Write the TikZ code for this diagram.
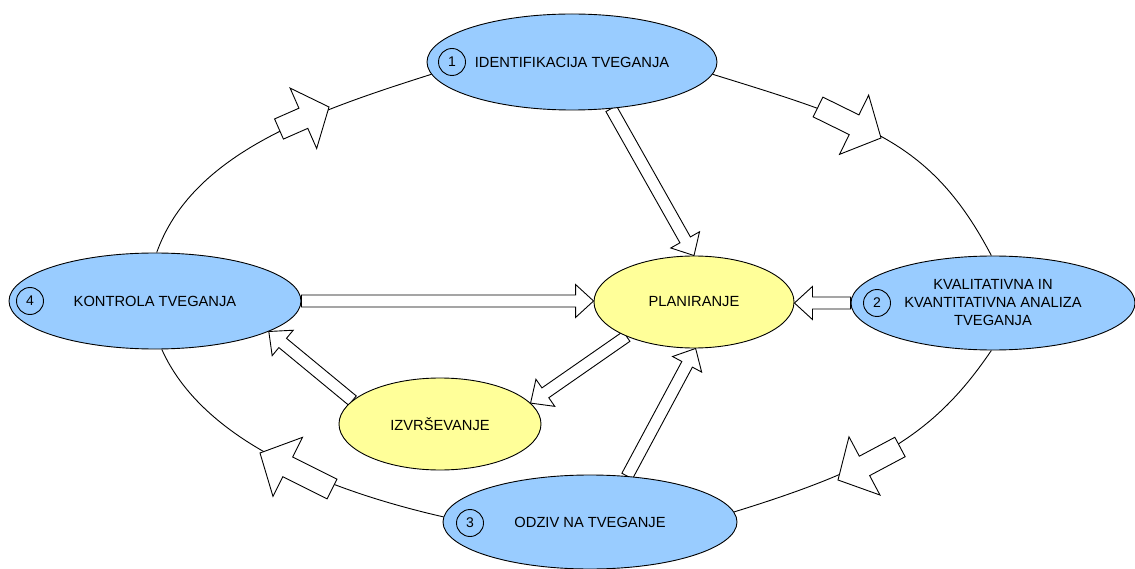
\documentclass[tikz,border=0pt]{standalone}
\usepackage{fontspec}
\setmainfont{Liberation Sans}
\usetikzlibrary{shapes.geometric,calc}
\pgfdeclarelayer{background}
\pgfsetlayers{background,main}
\definecolor{stepblue}{RGB}{153,204,255}
\definecolor{stepyellow}{RGB}{255,255,153}
\tikzset{
  ringline/.style={draw=black, line width=0.9pt},
  fatarrow/.style={draw=black, fill=white, line width=0.9pt, line join=miter},
  bluestep/.style={ellipse, draw=black, line width=0.9pt, fill=stepblue, inner sep=0pt, align=center,
    font=\fontsize{14.7}{18}\selectfont},
  yellowstep/.style={ellipse, draw=black, line width=0.9pt, fill=stepyellow, inner sep=0pt, align=center,
    font=\fontsize{14.7}{18}\selectfont},
  numcircle/.style={circle, draw=black, line width=0.9pt, minimum size=27pt, inner sep=0pt,
    font=\fontsize{14}{16}\selectfont}
}
\newcommand\blockarrow[5]{%
  \coordinate (ba-a) at (#1);
  \coordinate (ba-b) at (#2);
  \coordinate (ba-h) at ($(ba-b)!#5!(ba-a)$);
  \draw[fatarrow] ($(ba-a)!#3!90:(ba-b)$) -- ($(ba-h)!#3!-90:(ba-a)$) -- ($(ba-h)!#4!-90:(ba-a)$)
    -- (ba-b) -- ($(ba-h)!#4!90:(ba-a)$) -- ($(ba-h)!#3!90:(ba-a)$) -- ($(ba-a)!#3!-90:(ba-b)$) -- cycle;
}
\begin{document}
\begin{tikzpicture}[x=1pt,y=-1pt]
\useasboundingbox (0,0) rectangle (1135,569);

% main nodes
\node[bluestep, minimum width=290pt, minimum height=96pt] (T) at (572,62) {IDENTIFIKACIJA TVEGANJA};
\node[bluestep, minimum width=292pt, minimum height=96pt] (K) at (155,301) {KONTROLA TVEGANJA};
\node[bluestep, minimum width=284pt, minimum height=94pt] (R) at (993,303) {KVALITATIVNA IN\\KVANTITATIVNA ANALIZA\\TVEGANJA};
\node[bluestep, minimum width=294pt, minimum height=94pt] (B) at (590,522) {ODZIV NA TVEGANJE};
\node[yellowstep, minimum width=200pt, minimum height=92pt] (P) at (694,302) {PLANIRANJE};
\node[yellowstep, minimum width=202pt, minimum height=92pt] (I) at (440,424) {IZVRŠEVANJE};

% number circles
\node[numcircle] (n1) at (452,62) {1};
\node[numcircle] (n2) at (877,303) {2};
\node[numcircle] (n3) at (470,523) {3};
\node[numcircle] (n4) at (30,301) {4};

\begin{pgfonlayer}{background}
% outer cycle
\draw[ringline] (K.88) .. controls (192,153) and (313.5,111.75) .. (T.185);
\draw[ringline] (T.-5) .. controls (867,122) and (931.5,141.3) .. (R.92);
\draw[ringline] (R.-92) .. controls (935,433.5) and (878.25,467.45) .. (B.4);
\draw[ringline] (B.178) .. controls (328.2,490.5) and (202.8,441.3) .. (K.-82);

% arrows on the outer cycle
\coordinate (tlA) at (279,129); \coordinate (tlB) at (329,107);
\coordinate (trA) at (818,107); \coordinate (trB) at (881,138);
\coordinate (brA) at (900,447); \coordinate (brB) at (838,480);
\coordinate (blA) at (332,489); \coordinate (blB) at (260,453);
\blockarrow{tlA}{tlB}{11pt}{33pt}{28pt}
\blockarrow{trA}{trB}{11pt}{33pt}{30pt}
\blockarrow{brA}{brB}{11pt}{33pt}{30pt}
\blockarrow{blA}{blB}{11pt}{33pt}{31pt}

% inner arrows
\blockarrow{T.-50}{P.north}{6pt}{16.5pt}{18pt}
\blockarrow{K.east}{P.west |- K.east}{6pt}{16.5pt}{18pt}
\blockarrow{R.west}{P.east |- R.west}{6pt}{16.5pt}{18pt}
\blockarrow{B.51}{P.-88}{6pt}{16.5pt}{18pt}
\blockarrow{P.207}{I.13}{6pt}{16.5pt}{18pt}
\blockarrow{I.165}{K.-15}{6pt}{16.5pt}{18pt}
\end{pgfonlayer}
\end{tikzpicture}
\end{document}
